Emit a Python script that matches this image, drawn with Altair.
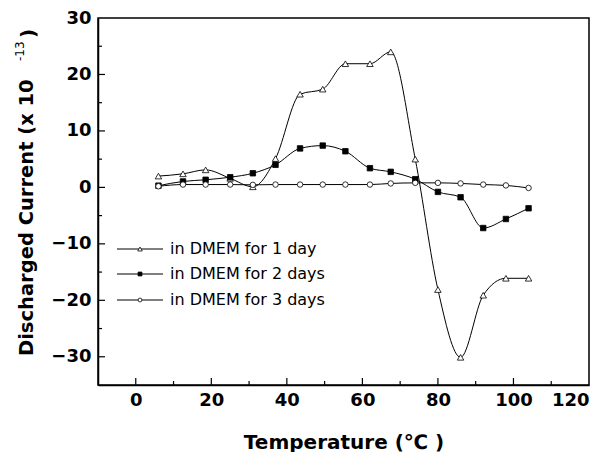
import altair as alt
import pandas as pd

temps = [6, 12.5, 18.5, 25, 31, 37, 43.5, 49.5, 55.5, 62, 67.5, 74, 80, 86, 92, 98, 104]
day1 = [2.0, 2.4, 3.1, 1.6, 0.1, 5.1, 16.5, 17.4, 21.9, 21.9, 24.0, 5.0, -18.1, -30.1, -19.1, -16.1, -16.1]
day2 = [0.3, 1.05, 1.35, 1.8, 2.5, 4.0, 6.9, 7.4, 6.4, 3.4, 2.75, 1.45, -0.8, -1.75, -7.2, -5.6, -3.7]
day3 = [0.2, 0.5, 0.5, 0.5, 0.45, 0.5, 0.5, 0.5, 0.5, 0.5, 0.7, 0.8, 0.8, 0.7, 0.5, 0.35, -0.1]
series_names = ["in DMEM for 1 day", "in DMEM for 2 days", "in DMEM for 3 days"]

x_major = [0, 20, 40, 60, 80, 100]
x_minor = [10, 30, 50, 70, 90, 110]
y_major = [-30, -20, -10, 0, 10, 20]
y_minor = [-25, -15, -5, 5, 15, 25]
x_labels = [0, 20, 40, 60, 80, 100, 120]
y_labels = [-30, -20, -10, 0, 10, 20, 30]

W, H = 491, 367
TOP = 10
FONT = "DejaVu Sans"

xs = alt.Scale(domain=[-10, 120], nice=False, zero=False)
ys = alt.Scale(domain=[-35, 30], nice=False, zero=False)

frames = []
for name, vals in zip(series_names, [day1, day2, day3]):
    frames.append(pd.DataFrame({"T": temps, "I": vals, "series": name}))
df = pd.concat(frames, ignore_index=True)

base = alt.Chart(df)

xaxis = alt.Axis(values=x_labels, ticks=False, grid=False,
                 title="Temperature (\u2103 )", labelPadding=6,
                 titleBaseline="alphabetic", titleY=63, titleX=W / 2, titleAnchor="middle")
yaxis = alt.Axis(values=y_labels, ticks=False, grid=False, title=None, labelPadding=7)

lines = base.mark_line(color="black", strokeWidth=1, interpolate="monotone").encode(
    x=alt.X("T:Q", scale=xs, axis=xaxis),
    y=alt.Y("I:Q", scale=ys, axis=yaxis),
    detail="series:N",
)

styles = [
    ("triangle-up", "white", 42),
    ("square", "black", 30),
    ("circle", "white", 30),
]
point_layers = []
for name, (shape, fill, size) in zip(series_names, styles):
    point_layers.append(
        base.transform_filter(alt.datum.series == name).mark_point(
            shape=shape, filled=True, fill=fill, stroke="black", strokeWidth=0.8, size=size, opacity=1
        ).encode(x=alt.X("T:Q", scale=xs), y=alt.Y("I:Q", scale=ys))
    )

# inward ticks
def xticks(vals, length):
    return alt.Chart(pd.DataFrame({"v": vals})).mark_rule(color="black", strokeWidth=1.2).encode(
        x=alt.X("v:Q", scale=xs), y=alt.value(H), y2=alt.value(H - length))

def yticks(vals, length):
    return alt.Chart(pd.DataFrame({"v": vals})).mark_rule(color="black", strokeWidth=1.2).encode(
        y=alt.Y("v:Q", scale=ys), x=alt.value(0), x2=alt.value(length))

tick_layers = [xticks(x_major, 7), xticks(x_minor, 4), yticks(y_major, 7), yticks(y_minor, 4)]

# y-axis title with superscript
ytitle_main = alt.Chart(pd.DataFrame({"t": ["Discharged Current (x 10"]})).mark_text(
    angle=270, align="left", baseline="alphabetic", fontSize=19.5, fontWeight="bold", font=FONT, color="black"
).encode(x=alt.value(-65), y=alt.value(338), text="t:N")
ytitle_sup = alt.Chart(pd.DataFrame({"t": ["-13"]})).mark_text(
    angle=270, align="left", baseline="alphabetic", fontSize=12, font=FONT, color="black"
).encode(x=alt.value(-74), y=alt.value(43), text="t:N")
ytitle_end = alt.Chart(pd.DataFrame({"t": [")"]})).mark_text(
    angle=270, align="left", baseline="alphabetic", fontSize=20, fontWeight="bold", font=FONT, color="black"
).encode(x=alt.value(-63), y=alt.value(20), text="t:N")

# manual legend
leg_y = [231, 256, 282]
legend_layers = []
for name, (shape, fill, size), ly in zip(series_names, styles, leg_y):
    d = alt.Chart(pd.DataFrame({"t": [name]}))
    legend_layers.append(d.mark_rule(color="black", strokeWidth=1).encode(
        x=alt.value(19), x2=alt.value(65), y=alt.value(ly)))
    legend_layers.append(d.mark_point(shape=shape, filled=True, fill=fill, stroke="black",
                                      strokeWidth=0.8, size=size * 0.5, opacity=1).encode(
        x=alt.value(42), y=alt.value(ly)))
    legend_layers.append(d.mark_text(align="left", baseline="middle", fontSize=16, font=FONT,
                                     color="black").encode(
        x=alt.value(72), y=alt.value(ly), text="t:N"))

chart = alt.layer(lines, *point_layers, *tick_layers, ytitle_main, ytitle_sup, ytitle_end,
                  *legend_layers).properties(
    width=W, height=H,
    autosize=alt.AutoSizeParams(type="none"),
    padding={"left": 90, "top": TOP, "right": 13, "bottom": 67},
).configure_view(stroke="black", strokeWidth=1.5).configure_axis(
    domainColor="black", domainWidth=1.5,
    labelFont=FONT, labelFontSize=18, labelFontWeight="bold", labelColor="black",
    titleFont=FONT, titleFontSize=20, titleFontWeight="bold", titleColor="black",
)

chart.save("out.html", embed_options={"renderer": "svg", "actions": False})
